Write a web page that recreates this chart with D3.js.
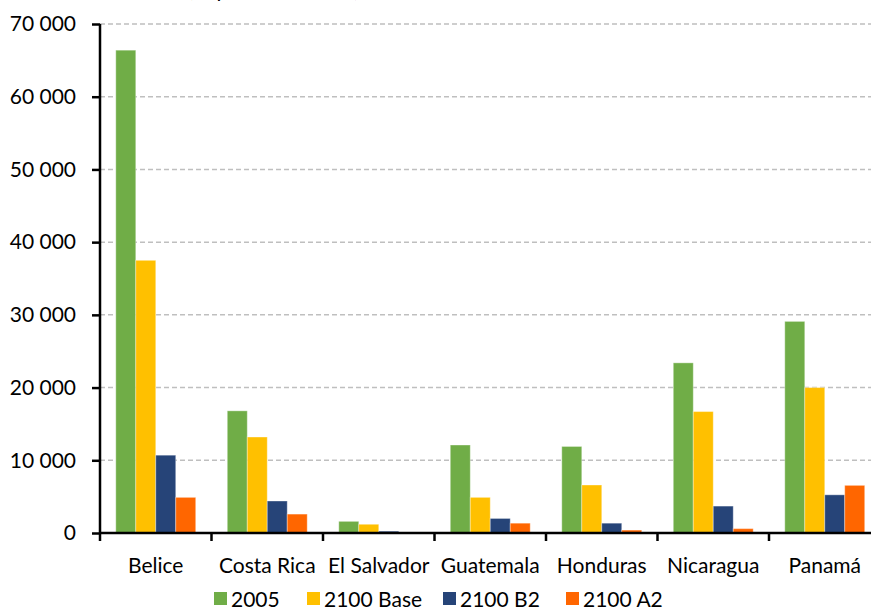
<!DOCTYPE html>
<html>
<head>
<meta charset="utf-8">
<script src="https://cdn.jsdelivr.net/npm/d3@7"></script>
<style>
  body { margin: 0; background: #fff; }
  svg { display: block; font-family: Lato, "Open Sans", sans-serif; }
</style>
</head>
<body>
<div class="chart"></div>
<script>

// datos
const paises = ["Belice", "Costa Rica", "El Salvador", "Guatemala", "Honduras", "Nicaragua", "Panamá"];
const series = ["2005", "2100 Base", "2100 B2", "2100 A2"];
const v2005 = [66400, 16800, 1600, 12100, 11900, 23400, 29100];
const vBase = [37500, 13200, 1200, 4900, 6600, 16700, 20000];
const vB2 = [10700, 4400, 250, 2000, 1350, 3700, 5250];
const vA2 = [4900, 2600, 30, 1350, 400, 600, 6550];
const yTicks = [0, 10000, 20000, 30000, 40000, 50000, 60000, 70000];
const colores = ["#70ad47", "#ffc000", "#264478", "#ff6600"];

const valores = [v2005, vBase, vB2, vA2];

const width = 871;
const height = 610;

const svg = d3.select(".chart")
    .append("svg")
    .attr("width", width)
    .attr("height", height);

// titulo (cortado arriba)
svg.append("text")
    .attr("x", 188)
    .attr("y", -3)
    .attr("font-size", 21)
    .text("(Superficie en km²)");

const x0 = d3.scaleBand()
    .domain(paises)
    .range([100, 880.5])
    .padding(0);

const x1 = d3.scaleBand()
    .domain(series)
    .range([0, x0.bandwidth()])
    .paddingInner(0)
    .paddingOuter(0.79);

const y = d3.scaleLinear()
    .domain([0, 70000])
    .range([533, 24]);

const loc = d3.formatLocale({decimal: ",", thousands: " ", grouping: [3], currency: ["", ""]});
const fmt = loc.format(",");

// grilla
svg.append("g")
    .selectAll("line")
    .data(yTicks.slice(1))
    .enter()
    .append("line")
    .attr("x1", 100)
    .attr("x2", width)
    .attr("y1", d => y(d))
    .attr("y2", d => y(d))
    .attr("stroke", "#bfbfbf")
    .attr("stroke-width", 1.5)
    .attr("stroke-dasharray", "5,3");

// barras
const filas = [];
paises.forEach((p, i) => {
    series.forEach((s, j) => {
        filas.push({pais: p, serie: s, valor: valores[j][i], color: colores[j]});
    });
});

svg.append("g")
    .selectAll("rect")
    .data(filas)
    .enter()
    .append("rect")
    .attr("x", d => x0(d.pais) + x1(d.serie))
    .attr("y", d => y(d.valor))
    .attr("width", x1.bandwidth())
    .attr("height", d => y(0) - y(d.valor))
    .attr("fill", d => d.color)
    .attr("stroke", "#ffffff")
    .attr("stroke-opacity", 0.35)
    .attr("stroke-width", 1);

// ejes
const yAxis = svg.append("g")
    .attr("transform", "translate(100,0)")
    .call(d3.axisLeft(y).tickValues(yTicks).tickFormat(fmt).tickSize(8).tickPadding(16));

const xAxis = svg.append("g")
    .attr("transform", `translate(0,${y(0)})`)
    .call(d3.axisBottom(x0).tickSize(0).tickPadding(25));

xAxis.selectAll(".tick")
    .append("line")
    .attr("stroke", "#000")
    .attr("stroke-width", 2.5)
    .attr("x1", -x0.bandwidth() / 2)
    .attr("x2", -x0.bandwidth() / 2)
    .attr("y1", 0)
    .attr("y2", 8);

[yAxis, xAxis].forEach(a => {
    a.select(".domain").attr("stroke", "#000").attr("stroke-width", 2.5);
    a.selectAll(".tick line").attr("stroke-width", 2.5);
    a.selectAll("text")
        .attr("font-size", 21)
        .attr("fill", "#000")
        .attr("font-family", "Lato, sans-serif");
});
yAxis.select(".domain").attr("d", "M0,533V24");
xAxis.select(".domain").attr("d", "M100,0H880.5");

// leyenda
const legX = [214, 307, 443, 566];
const leg = svg.append("g");
series.forEach((s, j) => {
    leg.append("rect")
        .attr("x", legX[j])
        .attr("y", 592)
        .attr("width", 13)
        .attr("height", 13)
        .attr("fill", colores[j]);
    leg.append("text")
        .attr("x", legX[j] + 17)
        .attr("y", 607)
        .attr("font-size", 21)
        .text(s);
});

</script>
</body>
</html>
